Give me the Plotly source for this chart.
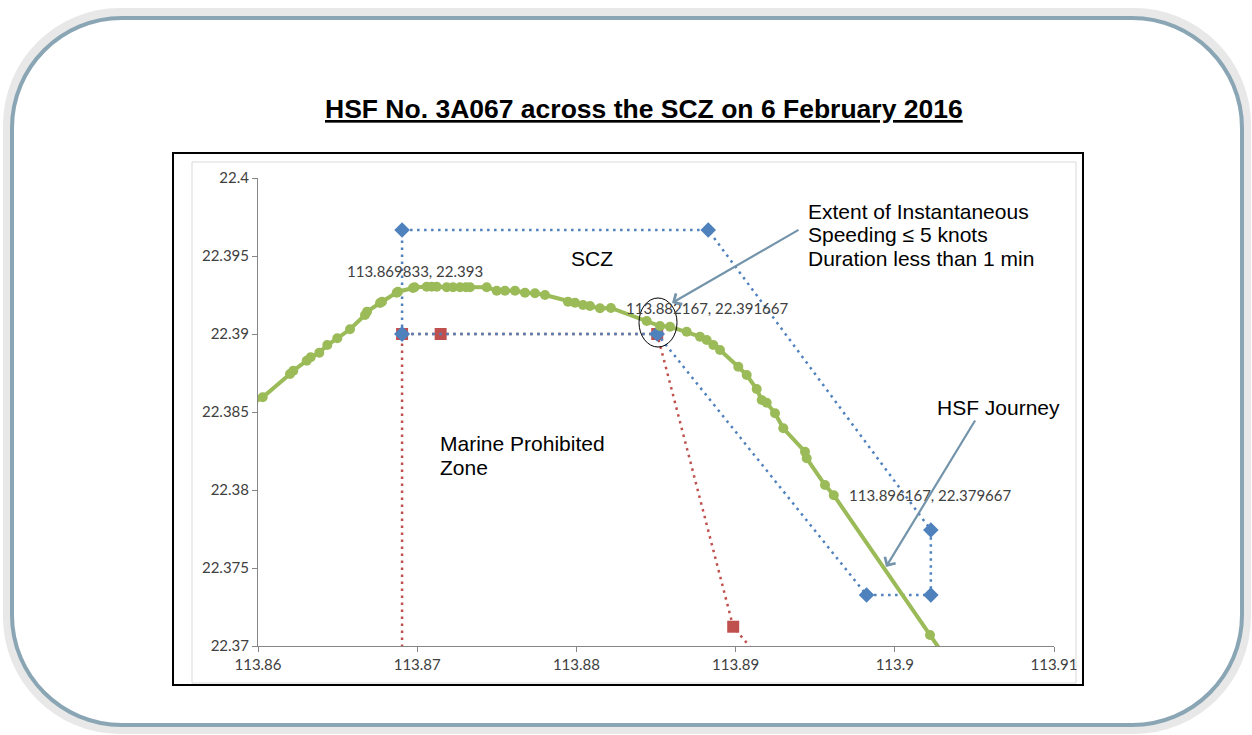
import plotly.graph_objects as go

# ---------------- data ----------------
hsf_lon = [113.859498, 113.860295, 113.86201, 113.862217, 113.863059, 113.86331, 113.86385,
           113.864353, 113.864981, 113.865779, 113.866721, 113.866847, 113.867663, 113.867789,
           113.868712, 113.868794, 113.869736, 113.869833, 113.870597, 113.870911, 113.871225,
           113.871853, 113.872249, 113.872688, 113.873065, 113.873317, 113.874366, 113.874994,
           113.875515, 113.876143, 113.876771, 113.877399, 113.878027, 113.879472, 113.879912,
           113.880414, 113.880854, 113.881482, 113.882167, 113.884416, 113.885251, 113.885879,
           113.886928, 113.887764, 113.888185, 113.888599, 113.88902, 113.890169, 113.890697,
           113.891325, 113.891639, 113.891953, 113.892475, 113.892996, 113.894359, 113.894466,
           113.895615, 113.896167, 113.902211, 113.904158]
hsf_lat = [22.385449, 22.385942, 22.387436, 22.387647, 22.388288, 22.388506, 22.388801,
           22.389294, 22.389724, 22.3903, 22.391217, 22.391429, 22.391986, 22.39207,
           22.392647, 22.392711, 22.392948, 22.393, 22.393031, 22.393031, 22.393031,
           22.393, 22.393, 22.393, 22.393, 22.393, 22.393, 22.392775,
           22.392775, 22.392775, 22.392647, 22.392608, 22.392499, 22.39207, 22.392006,
           22.391858, 22.391794, 22.391647, 22.391667, 22.390833, 22.390512, 22.390467,
           22.390147, 22.389826, 22.389615, 22.389294, 22.388974, 22.387903, 22.387371,
           22.386474, 22.385769, 22.385596, 22.384916, 22.383955, 22.382455, 22.382032,
           22.38032, 22.379667, 22.370705, 22.367821]

scz_lon = [113.86905, 113.86905, 113.88828, 113.902264, 113.902264, 113.898226, 113.885076, 113.86905]
scz_lat = [22.39, 22.396667, 22.396667, 22.377436, 22.373269, 22.373269, 22.39, 22.39]

mpz_lon = [113.86905, 113.86905, 113.871473, 113.885076, 113.889849, 113.892637]
mpz_lat = [22.365, 22.39, 22.39, 22.39, 22.371237, 22.367821]

label_lon = [113.869833, 113.882167, 113.896167]
label_lat = [22.393, 22.391667, 22.379667]
label_text = ["113.869833, 22.393", "113.882167, 22.391667", "113.896167, 22.379667"]

x_ticks = [113.86, 113.87, 113.88, 113.89, 113.9, 113.91]
x_ticktext = ["113.86", "113.87", "113.88", "113.89", "113.9", "113.91"]
y_ticks = [22.37, 22.375, 22.38, 22.385, 22.39, 22.395, 22.4]
y_ticktext = ["22.37", "22.375", "22.38", "22.385", "22.39", "22.395", "22.4"]

title_text = "HSF No. 3A067 across the SCZ on 6 February 2016"

# ---------------- layout geometry ----------------
FW, FH = 1252, 735
PL, PR, PT, PB = 258, 1054, 178, 646   # plot area in pixels
PW, PH = PR - PL, PB - PT


def px(x):
    return (x - PL) / PW


def py(y):
    return (PB - y) / PH


def rounded_path(l, t, r, b, rad):
    k = 0.5523 * rad
    pts = []
    pts.append(("M", [(l + rad, t)]))
    pts.append(("L", [(r - rad, t)]))
    pts.append(("C", [(r - rad + k, t), (r, t + rad - k), (r, t + rad)]))
    pts.append(("L", [(r, b - rad)]))
    pts.append(("C", [(r, b - rad + k), (r - rad + k, b), (r - rad, b)]))
    pts.append(("L", [(l + rad, b)]))
    pts.append(("C", [(l + rad - k, b), (l, b - rad + k), (l, b - rad)]))
    pts.append(("L", [(l, t + rad)]))
    pts.append(("C", [(l, t + rad - k), (l + rad - k, t), (l + rad, t)]))
    s = ""
    for cmd, ps in pts:
        s += cmd + " ".join("%.5f,%.5f" % (px(a), py(c)) for a, c in ps) + " "
    return s + "Z"


GREEN = "#9BBB59"
BLUE = "#4F81BD"
RED = "#C0504D"
ARROW = "#7394AA"

fig = go.Figure()

fig.add_trace(go.Scatter(
    x=mpz_lon, y=mpz_lat, mode="lines+markers", name="Marine Prohibited Zone",
    line=dict(color=RED, width=2.5, dash="2.5px,4.5px"),
    marker=dict(symbol="square", size=12, color=RED),
    hoverinfo="skip"))

fig.add_trace(go.Scatter(
    x=scz_lon, y=scz_lat, mode="lines+markers", name="SCZ",
    line=dict(color=BLUE, width=2.5, dash="2.5px,4.5px"),
    marker=dict(symbol="diamond", size=12, color=BLUE),
    hoverinfo="skip"))

fig.add_trace(go.Scatter(
    x=hsf_lon, y=hsf_lat, mode="lines+markers", name="HSF Journey",
    line=dict(color=GREEN, width=4),
    marker=dict(symbol="circle", size=10, color=GREEN),
    hoverinfo="skip"))

annotations = []
# data labels
annotations.append(dict(x=label_lon[0], y=label_lat[0], xref="x", yref="y", text=label_text[0],
                        showarrow=False, xanchor="center", yanchor="bottom", yshift=5,
                        font=dict(family="Lato", size=15, color="#404040")))
for i in (1, 2):
    annotations.append(dict(x=label_lon[i], y=label_lat[i], xref="x", yref="y", text=label_text[i],
                            showarrow=False, xanchor="left", yanchor="middle", xshift=13,
                            font=dict(family="Lato", size=15, color="#404040")))

TXT = dict(family="Liberation Sans, Arial", size=21, color="#000000")


def txt(text, x, y, anchor="left"):
    annotations.append(dict(x=px(x), y=py(y), xref="paper", yref="paper", text=text,
                            showarrow=False, xanchor=anchor, yanchor="middle", font=TXT))


txt("SCZ", 592, 258, "center")
txt("Marine Prohibited", 438, 443)
txt("Zone", 438, 467)
txt("HSF Journey", 935, 407)
txt("Extent of Instantaneous", 806, 211)
txt("Speeding \u2264 5 knots", 806, 234)
txt("Duration less than 1 min", 806, 258)

annotations.append(dict(x=px(644), y=py(109), xref="paper", yref="paper",
                        text="<b><u>" + title_text + "</u></b>", showarrow=False,
                        xanchor="center", yanchor="middle",
                        font=dict(family="Liberation Sans, Arial", size=26.5, color="#000000")))

# arrows
annotations.append(dict(x=px(672), y=py(303), xref="paper", yref="paper", text="",
                        showarrow=True, ax=128, ay=-74, axref="pixel", ayref="pixel",
                        arrowhead=4, arrowsize=1.1, arrowwidth=2.2, arrowcolor=ARROW, standoff=0))
annotations.append(dict(x=px(886), y=py(567), xref="paper", yref="paper", text="",
                        showarrow=True, ax=90, ay=-148, axref="pixel", ayref="pixel",
                        arrowhead=4, arrowsize=1.1, arrowwidth=2.2, arrowcolor=ARROW, standoff=0))

shapes = []
# outer rounded frame
shapes.append(dict(type="path", xref="paper", yref="paper", path=rounded_path(8, 13, 1246, 729, 112),
                   line=dict(color="#E8E8E8", width=10), layer="below"))
shapes.append(dict(type="path", xref="paper", yref="paper", path=rounded_path(12, 18, 1242, 725, 110),
                   line=dict(color="#8AA5B4", width=4), layer="below"))
# chart border (black) and inner light grey
shapes.append(dict(type="rect", xref="paper", yref="paper", x0=px(173), y0=py(685), x1=px(1083), y1=py(153),
                   line=dict(color="#000000", width=2), layer="below"))
shapes.append(dict(type="rect", xref="paper", yref="paper", x0=px(192), y0=py(683), x1=px(1076), y1=py(162),
                   line=dict(color="#D9D9D9", width=1), layer="below"))
# ellipse around the crossing point
shapes.append(dict(type="circle", xref="paper", yref="paper", x0=px(639), x1=px(677), y0=py(347), y1=py(298),
                   line=dict(color="#000000", width=1)))

fig.update_layout(
    width=FW, height=FH,
    margin=dict(l=PL, r=FW - PR, t=PT, b=FH - PB, pad=0),
    paper_bgcolor="white", plot_bgcolor="white",
    showlegend=False,
    annotations=annotations, shapes=shapes,
    xaxis=dict(range=[113.86, 113.91], tickvals=x_ticks, ticktext=x_ticktext,
               showgrid=False, zeroline=False, showline=True, linecolor="#868686", linewidth=1,
               ticks="outside", ticklen=5, tickcolor="#868686",
               tickfont=dict(family="Lato", size=15, color="#404040")),
    yaxis=dict(range=[22.37, 22.4], tickvals=y_ticks, ticktext=y_ticktext,
               showgrid=False, zeroline=False, showline=True, linecolor="#868686", linewidth=1,
               ticks="outside", ticklen=5, tickcolor="#868686",
               tickfont=dict(family="Lato", size=15, color="#404040")),
)

fig.write_html("out.html", config={"displayModeBar": False},
               post_script="document.body.style.margin='0';document.body.style.overflow='hidden';")
